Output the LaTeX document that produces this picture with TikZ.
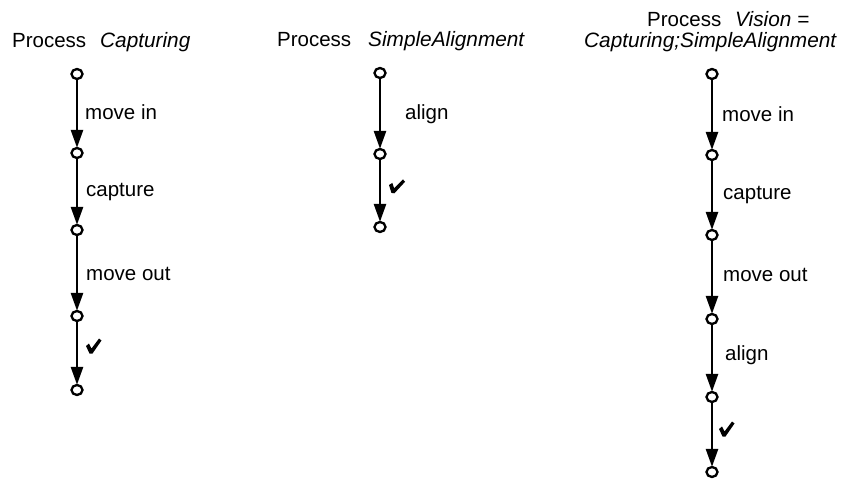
\documentclass[tikz,border=0pt]{standalone}
\usepackage{fontspec}
\setmainfont{Liberation Sans}
\usetikzlibrary{arrows.meta,shapes.geometric}
\begin{document}
\begin{tikzpicture}[x=1pt,y=-1pt,
  state/.style={draw,line width=2.3pt,ellipse,minimum width=11pt,minimum height=10pt,inner sep=0pt,fill=white},
  trans/.style={line width=2.6pt,-{Triangle[length=18pt,width=12pt]},shorten >=-1pt},
  lbl/.style={anchor=base west,inner sep=0pt,font=\fontsize{20.5}{23}\selectfont},
  ttl/.style={anchor=base west,inner sep=0pt,font=\fontsize{20.5}{23}\selectfont},
  ittl/.style={ttl,font=\fontsize{20.8}{23}\selectfont\itshape},
  tick/.pic={\fill (0,0) -- (3,-2.5) -- (5.5,2.5) -- (13,-7.5) -- (15.5,-5.5) -- (6.5,7.5) -- (3.5,7.5) -- cycle;}]
\useasboundingbox (0,0) rectangle (854,479);

% Process Capturing
\node[ttl] (t1a) at (12,47) {Process};
\node[ittl] (t1b) at (100,47) {Capturing};
\node[state] (c1) at (77,74) {};
\node[state] (c2) at (77,153) {};
\node[state] (c3) at (77,230) {};
\node[state] (c4) at (77,316) {};
\node[state] (c5) at (77,390) {};
\draw[trans] (c1) -- (c2);
\draw[trans] (c2) -- (c3);
\draw[trans] (c3) -- (c4);
\draw[trans] (c4) -- (c5);
\node[lbl] (l1) at (85,119) {move in};
\node[lbl] (l2) at (86,196) {capture};
\node[lbl] (l3) at (86,280) {move out};
\pic at (86,346) {tick};

% Process SimpleAlignment
\node[ttl] (t2a) at (277,46) {Process};
\node[ittl] (t2b) at (368,46) {SimpleAlignment};
\node[state] (s1) at (380,73) {};
\node[state] (s2) at (380,154) {};
\node[state] (s3) at (380,227) {};
\draw[trans] (s1) -- (s2);
\draw[trans] (s2) -- (s3);
\node[lbl] (l4) at (405,119) {align};
\pic[rotate=-8] at (389,185) {tick};

% Process Vision = Capturing;SimpleAlignment
\node[ttl] (t3a) at (647,26) {Process};
\node[ittl] (t3b) at (735,26) {Vision =};
\node[ittl] (t3c) at (584,47) {Capturing;SimpleAlignment};
\node[state] (v1) at (712,74) {};
\node[state] (v2) at (712,155) {};
\node[state] (v3) at (712,235) {};
\node[state] (v4) at (712,319) {};
\node[state] (v5) at (712,397) {};
\node[state] (v6) at (712,472) {};
\draw[trans] (v1) -- (v2);
\draw[trans] (v2) -- (v3);
\draw[trans] (v3) -- (v4);
\draw[trans] (v4) -- (v5);
\draw[trans] (v5) -- (v6);
\node[lbl] (l5) at (722,121) {move in};
\node[lbl] (l6) at (723,199) {capture};
\node[lbl] (l7) at (723,281) {move out};
\node[lbl] (l8) at (725,360) {align};
\pic at (719,429) {tick};
\end{tikzpicture}
\end{document}
